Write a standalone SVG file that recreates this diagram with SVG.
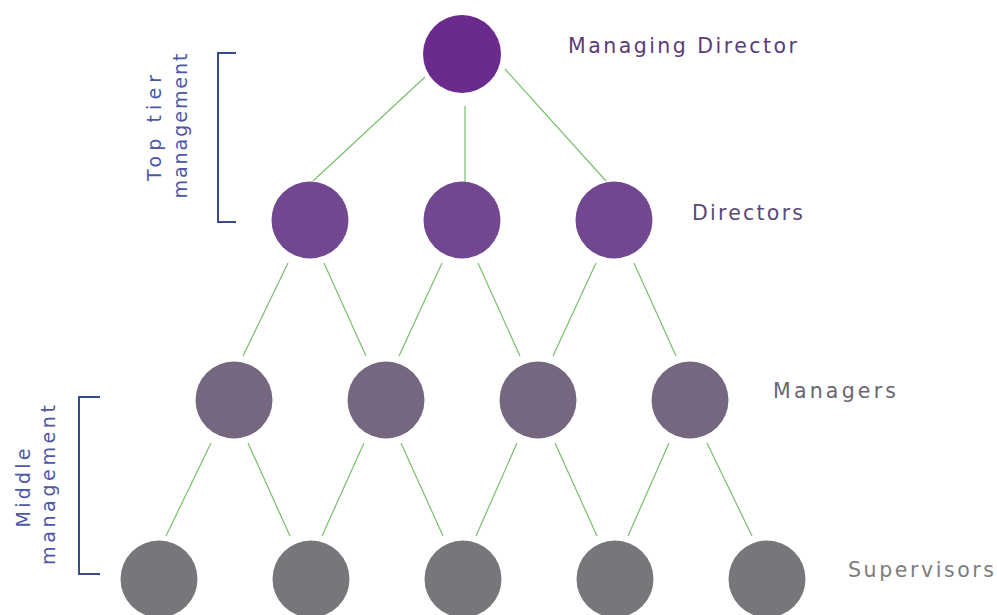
<svg xmlns="http://www.w3.org/2000/svg" width="997" height="615" viewBox="0 0 997 615">
<style>
.c{stroke:none}
.md{fill:#6a2a8e}
.d{fill:#71478f}
.m{fill:#74677f}
.s{fill:#75777a}
.ln{stroke:#77c06a;stroke-width:1.2;fill:none}
.lbl{font-family:"DejaVu Sans","Liberation Sans",sans-serif;font-size:20.5px}
.side{font-family:"DejaVu Sans","Liberation Sans",sans-serif;font-size:19px;fill:#4f57a8;text-anchor:middle}
.br{stroke:#3b4a8c;stroke-width:2;fill:none}
</style>
<rect width="997" height="615" fill="#ffffff"/>
<g id="connectors">
<line class="ln" x1="425" y1="77" x2="313" y2="181"/>
<line class="ln" x1="465" y1="106" x2="465" y2="182"/>
<line class="ln" x1="505" y1="69" x2="606" y2="181"/>
<line class="ln" x1="288" y1="263" x2="243" y2="356"/>
<line class="ln" x1="324" y1="263" x2="366" y2="356"/>
<line class="ln" x1="442" y1="263" x2="399" y2="356"/>
<line class="ln" x1="478" y1="263" x2="520" y2="356"/>
<line class="ln" x1="596" y1="263" x2="553" y2="356"/>
<line class="ln" x1="634" y1="263" x2="676" y2="356"/>
<line class="ln" x1="211" y1="443" x2="166" y2="536"/>
<line class="ln" x1="248" y1="443" x2="290" y2="536"/>
<line class="ln" x1="364" y1="443" x2="322" y2="536"/>
<line class="ln" x1="401" y1="443" x2="443" y2="536"/>
<line class="ln" x1="517" y1="443" x2="476" y2="536"/>
<line class="ln" x1="555" y1="443" x2="597" y2="536"/>
<line class="ln" x1="669" y1="443" x2="628" y2="536"/>
<line class="ln" x1="707" y1="443" x2="752" y2="536"/>
</g>
<g id="managing-director"><circle class="c md" cx="462" cy="54" r="39"/><text class="lbl" x="568" y="53" fill="#5b3a7c" textLength="229" lengthAdjust="spacing">Managing Director</text></g>
<g id="director-1"><circle class="c d" cx="310" cy="220" r="38.5"/></g>
<g id="director-2"><circle class="c d" cx="462" cy="220" r="38.5"/></g>
<g id="director-3"><circle class="c d" cx="614" cy="220" r="38.5"/><text class="lbl" x="692" y="220" fill="#5a4a78" textLength="111" lengthAdjust="spacing">Directors</text></g>
<g id="manager-1"><circle class="c m" cx="234" cy="400" r="38.5"/></g>
<g id="manager-2"><circle class="c m" cx="386" cy="400" r="38.5"/></g>
<g id="manager-3"><circle class="c m" cx="538" cy="400" r="38.5"/></g>
<g id="manager-4"><circle class="c m" cx="690" cy="400" r="38.5"/><text class="lbl" x="773" y="398" fill="#6a6570" textLength="123" lengthAdjust="spacing">Managers</text></g>
<g id="supervisor-1"><circle class="c s" cx="159" cy="579" r="38.5"/></g>
<g id="supervisor-2"><circle class="c s" cx="311" cy="579" r="38.5"/></g>
<g id="supervisor-3"><circle class="c s" cx="463" cy="579" r="38.5"/></g>
<g id="supervisor-4"><circle class="c s" cx="615" cy="579" r="38.5"/></g>
<g id="supervisor-5"><circle class="c s" cx="767" cy="579" r="38.5"/><text class="lbl" x="848" y="577" fill="#7d7d7d" textLength="146" lengthAdjust="spacing">Supervisors</text></g>
<g id="top-tier">
<path class="br" d="M236,53 H218 V222 H236"/>
<text class="side" transform="translate(161,128) rotate(-90)" textLength="106" lengthAdjust="spacing">Top tier</text>
<text class="side" transform="translate(187,126) rotate(-90)" textLength="145" lengthAdjust="spacing">management</text>
</g>
<g id="middle">
<path class="br" d="M100,397 H79 V574 H100"/>
<text class="side" transform="translate(30,488) rotate(-90)" textLength="79" lengthAdjust="spacing">Middle</text>
<text class="side" transform="translate(55,485) rotate(-90)" textLength="160" lengthAdjust="spacing">management</text>
</g>
</svg>
